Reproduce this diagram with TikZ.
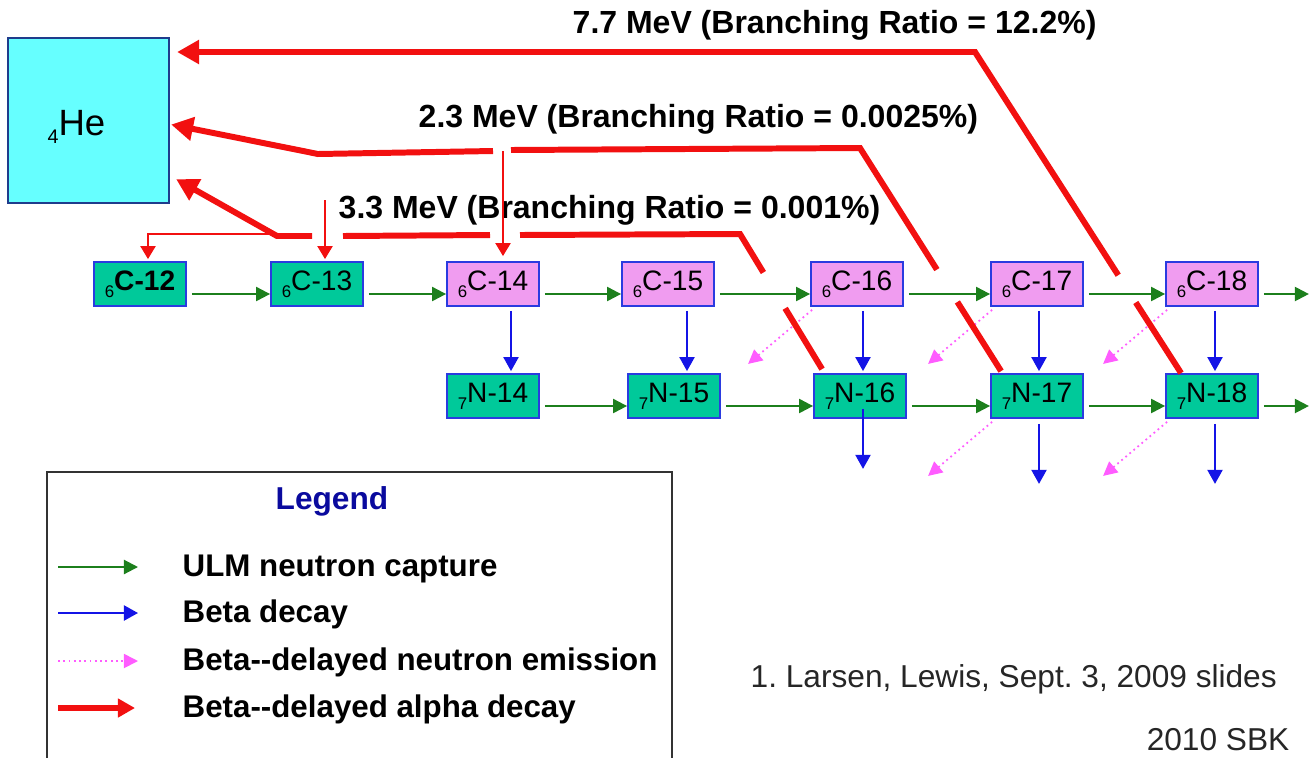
\documentclass[tikz,border=0pt]{standalone}
\usepackage{fontspec}
\setmainfont{Liberation Sans}
\usepackage{xcolor}
\usetikzlibrary{arrows.meta,calc}
\definecolor{nucteal}{HTML}{00C99A}
\definecolor{nucpink}{HTML}{F09CF0}
\definecolor{nucedge}{HTML}{2A3BE0}
\definecolor{hecyan}{HTML}{66FFFF}
\definecolor{heedge}{HTML}{1F3C8C}
\definecolor{capgreen}{HTML}{1C7F1C}
\definecolor{betablue}{HTML}{1414E6}
\definecolor{emitpink}{HTML}{FF5CFF}
\definecolor{alphared}{HTML}{F21010}
\definecolor{legendblue}{HTML}{0A0A9E}
\newcommand{\zsub}[1]{\raisebox{-0.07cm}{\fontsize{4.8}{5}\selectfont #1}}
\tikzset{
  nuclide/.style={draw=nucedge,line width=0.5pt,minimum width=0.92cm,
    minimum height=0.44cm,inner sep=0pt,font=\fontsize{8}{9}\selectfont},
  stable/.style={nuclide,fill=nucteal},
  unstable/.style={nuclide,fill=nucpink},
  capture/.style={draw=capgreen,line width=0.6pt,-{Triangle[length=0.14cm,width=0.14cm]}},
  betaline/.style={draw=betablue,line width=0.6pt,-{Triangle[length=0.14cm,width=0.15cm]}},
  emission/.style={draw=emitpink,line width=0.5pt,densely dotted,-{Triangle[length=0.14cm,width=0.14cm]}},
  alphaline/.style={draw=alphared,line width=1.7pt},
  alphatip/.style={alphaline,-{Triangle[length=0.22cm,width=0.23cm]}},
  thinalpha/.style={draw=alphared,line width=0.6pt,-{Triangle[length=0.13cm,width=0.15cm]}},
  ratio/.style={font=\bfseries\fontsize{9.1}{10}\selectfont,anchor=base west,inner sep=0pt},
  keytext/.style={font=\bfseries\fontsize{8.9}{10}\selectfont,anchor=base west,inner sep=0pt},
  note/.style={font=\fontsize{9}{10}\selectfont,text=black!85,inner sep=0pt}
}
\frenchspacing

\begin{document}
\begin{tikzpicture}[x=0.01cm,y=-0.01cm]
  \useasboundingbox (0,0) rectangle (1315,757);
  % helium box
  \node[draw=heedge,fill=hecyan,line width=0.6pt,minimum width=1.61cm,
    minimum height=1.65cm,inner sep=0pt] (he) at (88.5,120.5) {};
  \node[anchor=base west,inner sep=0pt,font=\fontsize{10.4}{12}\selectfont]
    (helabel) at ($(he.west)+(40,14.5)$) {\raisebox{-0.08cm}{\fontsize{5.6}{6}\selectfont 4}He};
  % carbon and nitrogen chains
  \node[stable] (c12) at (140,284) {\zsub{6}\textbf{C-12}};
  \foreach \n/\x/\s in {13/317/stable,14/493/unstable,15/668/unstable,
      16/857/unstable,17/1037/unstable,18/1212/unstable}
    \node[\s] (c\n) at (\x,284) {\zsub{6}C-\n};
  \foreach \n/\x in {14/493,15/674,16/860,17/1037,18/1212}
    \node[stable] (n\n) at (\x,396) {\zsub{7}N-\n};
  % neutron capture
  \foreach \a/\b in {c12/c13,c13/c14,c14/c15,c15/c16,c16/c17,c17/c18,
      n14/n15,n15/n16,n16/n17,n17/n18}
    \draw[capture] ($(\a.east)+(5,10)$) -- ($(\b.west)+(0,10)$);
  \draw[capture] ($(c18.east)+(5,10)$) -- ++(45,0);
  \draw[capture] ($(n18.east)+(5,10)$) -- ++(45,0);
  % beta decay
  \foreach \n/\dx in {14/18,15/19,16/6,17/2,18/3}
    \draw[betaline,shorten >=0.02cm] ($(c\n.south)+(\dx,4)$) coordinate (b\n) -- (b\n |- n\n.north);
  \foreach \n/\dx/\dy in {16/3/-10,17/2/5,18/3/5}
    \draw[betaline] ($(n\n.south)+(\dx,\dy)$) -- ++(0,60);
  % beta-delayed neutron emission
  \foreach \b in {c16,c17,c18,n17,n18}
    \draw[emission] ($(\b.south west)+(2,3)$) -- ++(-64,54);
  % branching labels
  \node[ratio] (r77) at (572,33) {7.7 MeV (Branching Ratio = 12.2\%)};
  \node[ratio] (r23) at (418,127) {2.3 MeV (Branching Ratio = 0.0025\%)};
  \node[ratio] (r33) at (338,218) {3.3 MeV (Branching Ratio = 0.001\%)};
  % alpha decay, 7.7 MeV
  \coordinate (k77) at (975,52);
  \draw[alphaline] ($(n18.north west)+(16,0)$) coordinate (s77) -- ($(s77)!0.22!(k77)$);
  \draw[alphatip,shorten >=0.07cm] ($(s77)!0.305!(k77)$) -- (k77) -- (k77 -| he.east);
  % alpha decay, 2.3 MeV
  \coordinate (k23) at (860,148);
  \coordinate (d14) at (503,151);
  \draw[alphaline] ($(n17.north west)+(11,-2)$) coordinate (s23) -- ($(s23)!0.31!(k23)$);
  \draw[alphaline] ($(s23)!0.455!(k23)$) -- (k23) -- ($(d14)+(8,-1)$);
  \draw[alphatip] ($(d14)+(-10,0)$) -- (318,154) -- ($(he.east)+(1,4)$);
  \draw[thinalpha,shorten >=0.05cm] (d14) -- (d14 |- c14.north);
  % alpha decay, 3.3 MeV
  \coordinate (k33) at (740,234);
  \coordinate (d13) at (325,200);
  \coordinate (f33) at (277,236);
  \draw[alphaline] ($(n16.north west)+(9,-4)$) coordinate (s33) -- ($(s33)!0.45!(k33)$);
  \draw[alphaline] ($(s33)!0.715!(k33)$) -- (k33) -- (520,235);
  \draw[alphaline] (490,235) -- (343,236);
  \draw[alphatip] (312,236) -- (f33) -- ($(he.south east)+(6,-25)$);
  \draw[thinalpha,shorten >=0.02cm] (d13) -- (d13 |- c13.north);
  \draw[thinalpha,shorten >=0.02cm] ($(f33)+(0,-2)$) -| ($(c12.north)+(8,0)$);
  % legend
  \draw[black!80,line width=0.6pt] (47,770) -- (47,472) -- (672,472) -- (672,770);
  \node[anchor=base west,inner sep=0pt,text=legendblue,
    font=\bfseries\fontsize{9}{10}\selectfont] (legend) at (275,509) {Legend};
  \foreach \y/\s/\t in {567/capture/ULM neutron capture,613/betaline/Beta decay,
      661/emission/Beta-{}-delayed neutron emission}{
    \draw[\s] (58,\y) coordinate (key\y) -- ++(80,0);
    \node[keytext] at (182,{\y+9.5}) {\t};
  }
  \draw[alphaline,-{Triangle[length=0.17cm,width=0.18cm]}] (58,708) coordinate (key708) -- ++(77,0);
  \node[keytext] (keyalpha) at (182,717.5) {Beta-{}-delayed alpha decay};
  % sources
  \node[note,anchor=base west] (src) at (750,687) {1. Larsen, Lewis, Sept. 3, 2009 slides};
  \node[note,anchor=base east] (sbk) at (1290,750) {2010 SBK};
\end{tikzpicture}
\end{document}
